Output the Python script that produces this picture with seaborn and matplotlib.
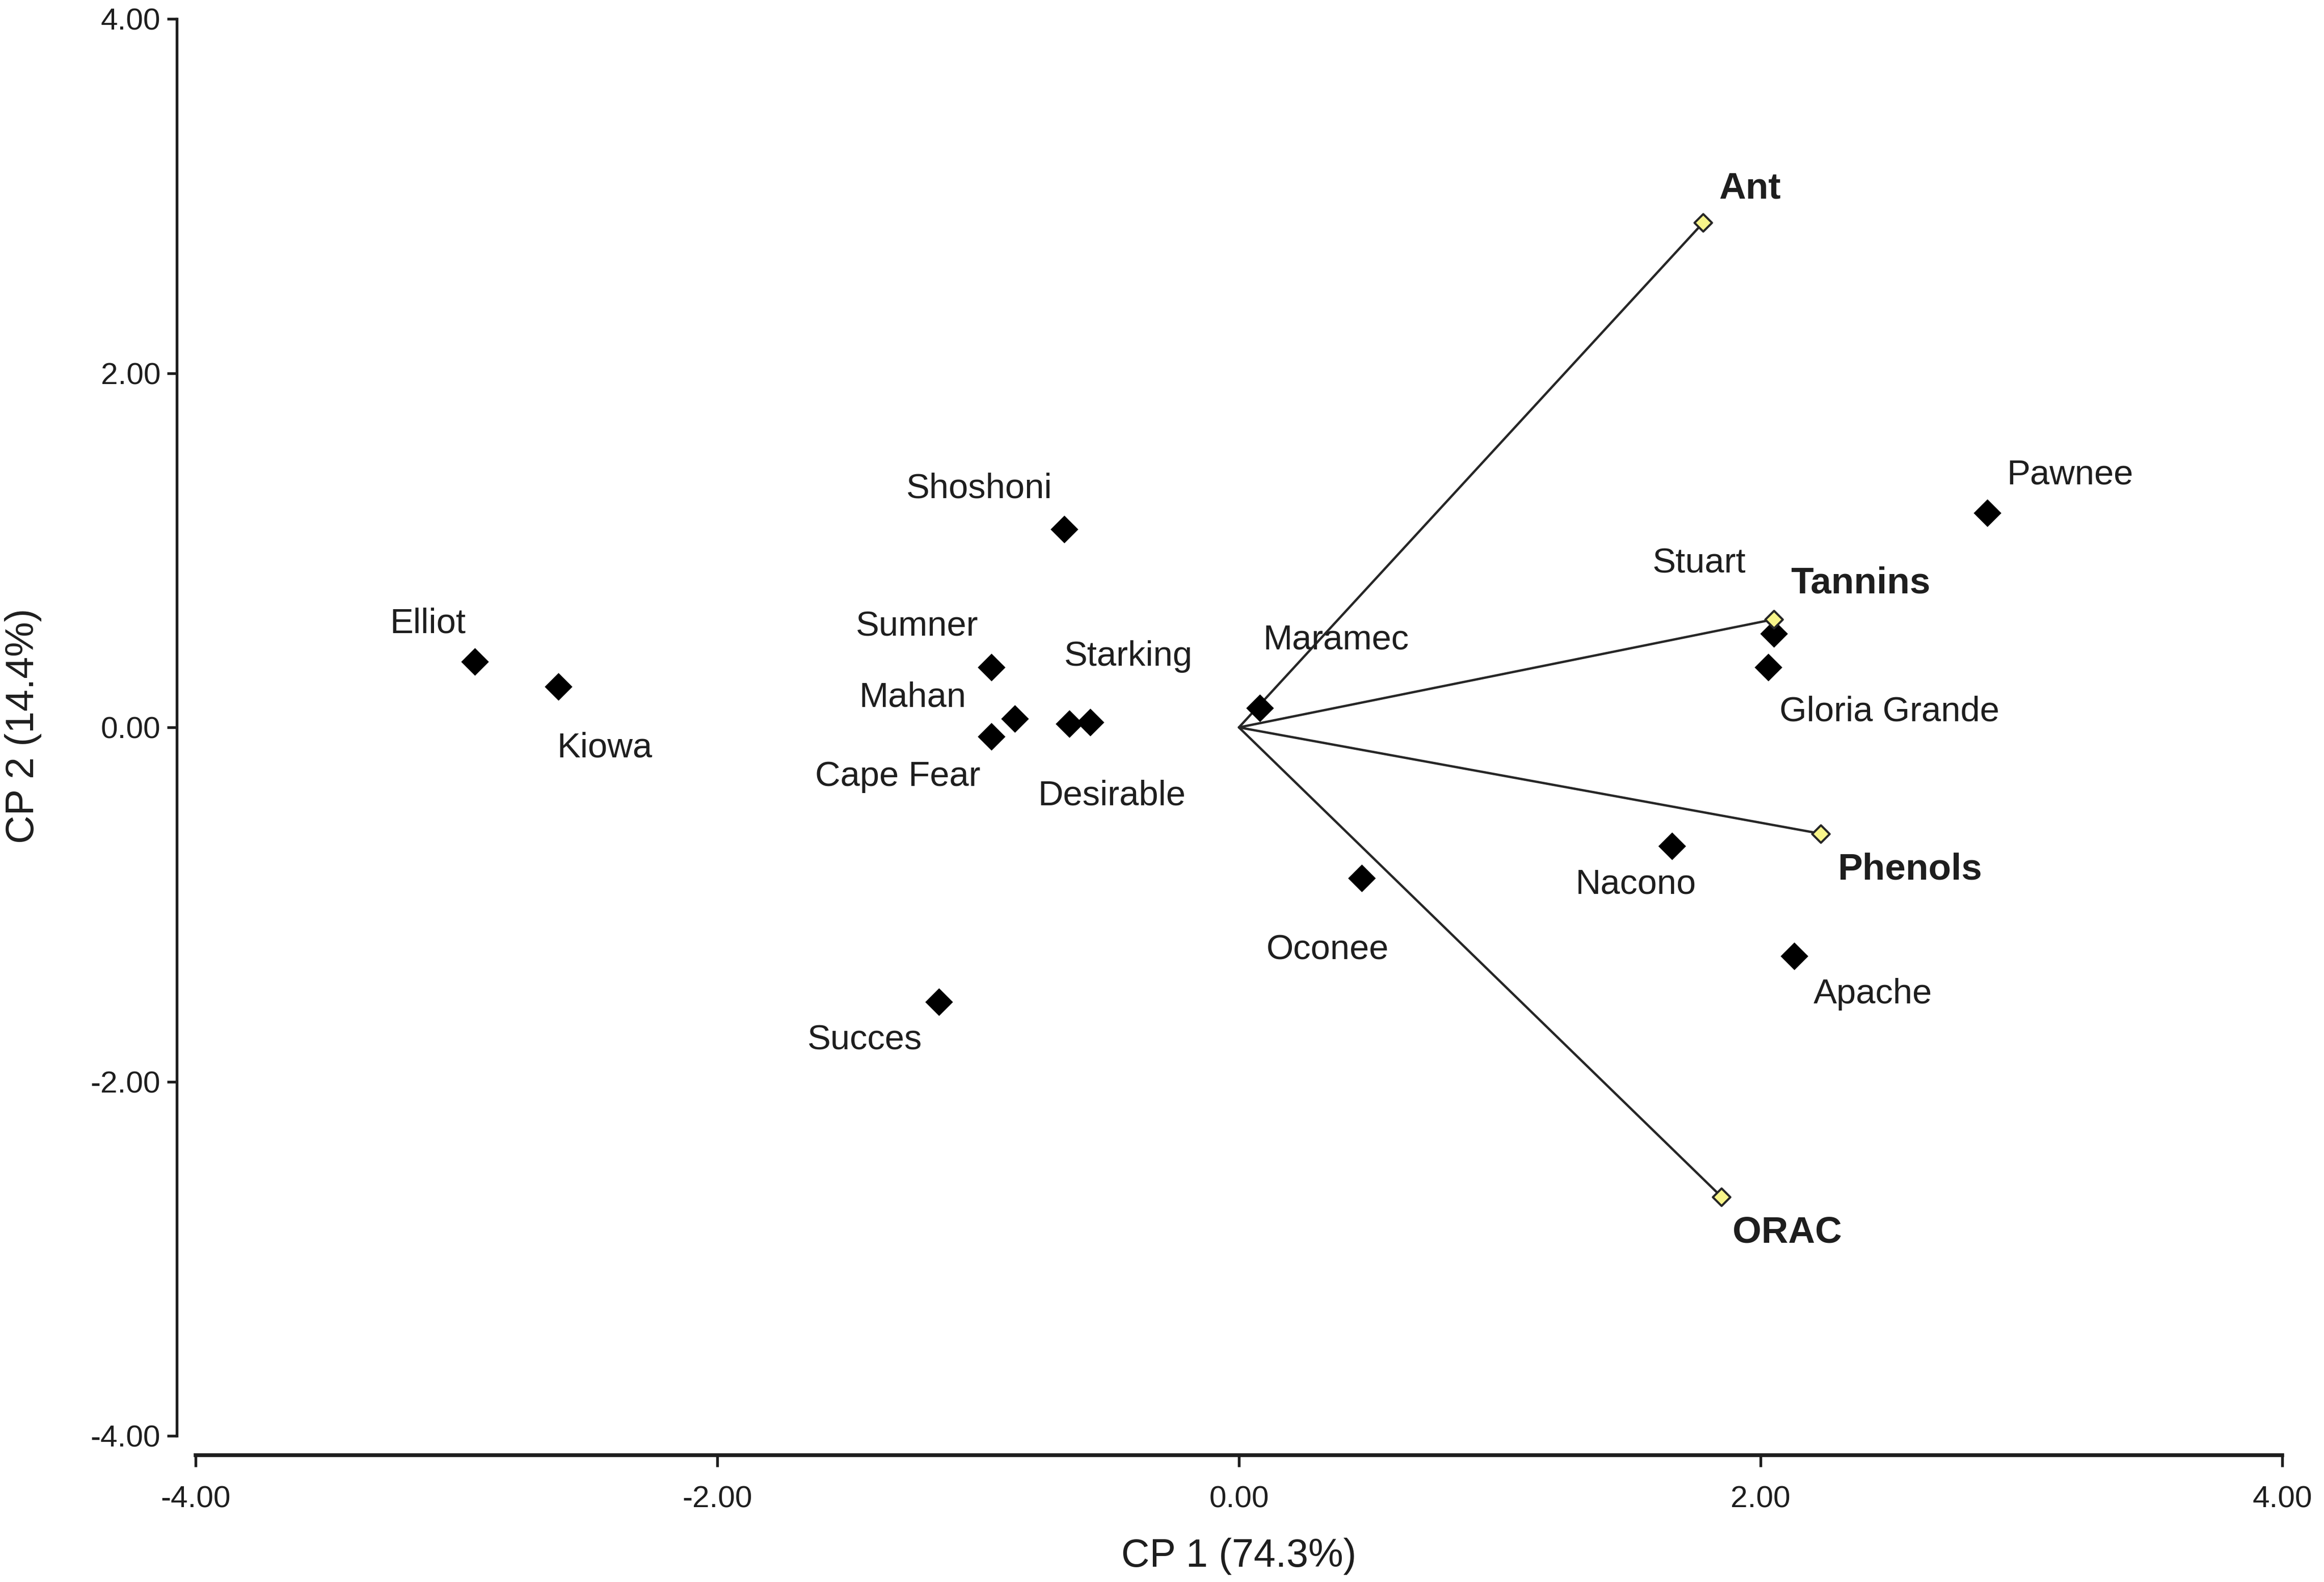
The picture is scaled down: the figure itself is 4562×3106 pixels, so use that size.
import matplotlib
matplotlib.use("Agg")
import matplotlib.pyplot as plt
import pandas as pd
import seaborn as sns

# Cultivar scores on the first two principal components
cultivars = ["Elliot", "Kiowa", "Shoshoni", "Sumner", "Mahan", "Cape Fear",
             "Starking", "Desirable", "Maramec", "Oconee", "Succes", "Pawnee",
             "Stuart", "Gloria Grande", "Nacono", "Apache"]
cp1 = [-2.93, -2.61, -0.67, -0.95, -0.86, -0.95, -0.57, -0.65, 0.08, 0.47,
       -1.15, 2.87, 2.05, 2.03, 1.66, 2.13]
cp2 = [0.37, 0.23, 1.12, 0.34, 0.05, -0.05, 0.03, 0.02, 0.11, -0.85,
       -1.55, 1.21, 0.53, 0.34, -0.67, -1.29]

# Variable loadings (vectors from the origin)
variables = ["Ant", "Tannins", "Phenols", "ORAC"]
load1 = [1.78, 2.05, 2.23, 1.85]
load2 = [2.85, 0.61, -0.60, -2.65]

ticks = [-4, -2, 0, 2, 4]

# label offsets in points (dx, dy) from each marker
label_offsets = {
    "Elliot": (-22, 18), "Kiowa": (22, -29), "Shoshoni": (-40, 19),
    "Sumner": (-35, 19), "Mahan": (-48, 10), "Cape Fear": (-44, -19),
    "Starking": (18, 31), "Desirable": (20, -34), "Maramec": (36, 32),
    "Oconee": (-16, -34), "Succes": (-35, -18), "Pawnee": (39, 18),
    "Stuart": (-35, 33), "Gloria Grande": (57, -21), "Nacono": (-17, -18),
    "Apache": (37, -18), "Ant": (22, 16), "Tannins": (41, 17),
    "Phenols": (42, -17), "ORAC": (31, -17),
}

sns.set_style("ticks")
plt.rcParams["font.family"] = ["Liberation Sans", "DejaVu Sans"]
plt.rcParams["axes.unicode_minus"] = False

scores = pd.DataFrame({"name": cultivars, "cp1": cp1, "cp2": cp2})
loadings = pd.DataFrame({"name": variables, "cp1": load1, "cp2": load2})

fig, ax = plt.subplots(figsize=(4562 / 300, 3106 / 300), dpi=300)
fig.subplots_adjust(left=0.0842, right=0.982, bottom=0.0924, top=0.988)

# vectors first so markers sit on top
for _, row in loadings.iterrows():
    ax.plot([0, row.cp1], [0, row.cp2], color="#262626", lw=1.1, zorder=1)

sns.scatterplot(data=scores, x="cp1", y="cp2", ax=ax, marker="D", s=85,
                color="black", edgecolor="black", linewidth=0, zorder=3)
sns.scatterplot(data=loadings, x="cp1", y="cp2", ax=ax, marker="D", s=34,
                color="#f8f58a", edgecolor="#262626", linewidth=1.0, zorder=4)

text_color = "#1e1e1e"
for _, row in scores.iterrows():
    ax.annotate(row["name"], (row.cp1, row.cp2),
                xytext=label_offsets[row["name"]], textcoords="offset points",
                ha="center", va="center", fontsize=16.5, color=text_color)
for _, row in loadings.iterrows():
    ax.annotate(row["name"], (row.cp1, row.cp2),
                xytext=label_offsets[row["name"]], textcoords="offset points",
                ha="center", va="center", fontsize=17.5, fontweight="bold",
                color=text_color)

ax.set_xlim(-4, 4)
ax.set_ylim(-4, 4)
ax.set_xticks(ticks)
ax.set_yticks(ticks)
ax.set_xticklabels([f"{t:.2f}" for t in ticks])
ax.set_yticklabels([f"{t:.2f}" for t in ticks])
ax.tick_params(axis="both", labelsize=14.5, width=1.3, colors="#1e1e1e")
ax.tick_params(axis="x", length=5.5, pad=9)
ax.tick_params(axis="y", length=4.5, pad=3)

ax.set_xlabel("CP 1 (74.3%)", fontsize=18.5, color=text_color)
ax.set_ylabel("CP 2 (14.4%)", fontsize=18.5, color=text_color)
ax.xaxis.set_label_coords(0.533, 0.028, transform=fig.transFigure)
ax.yaxis.set_label_coords(0.018, 0.541, transform=fig.transFigure)

sns.despine(ax=ax, offset=9, trim=True)
ax.spines["left"].set_linewidth(1.3)
ax.spines["bottom"].set_linewidth(1.8)
for side in ["left", "bottom"]:
    ax.spines[side].set_color("#1e1e1e")

fig.savefig("out.png", dpi=300)
